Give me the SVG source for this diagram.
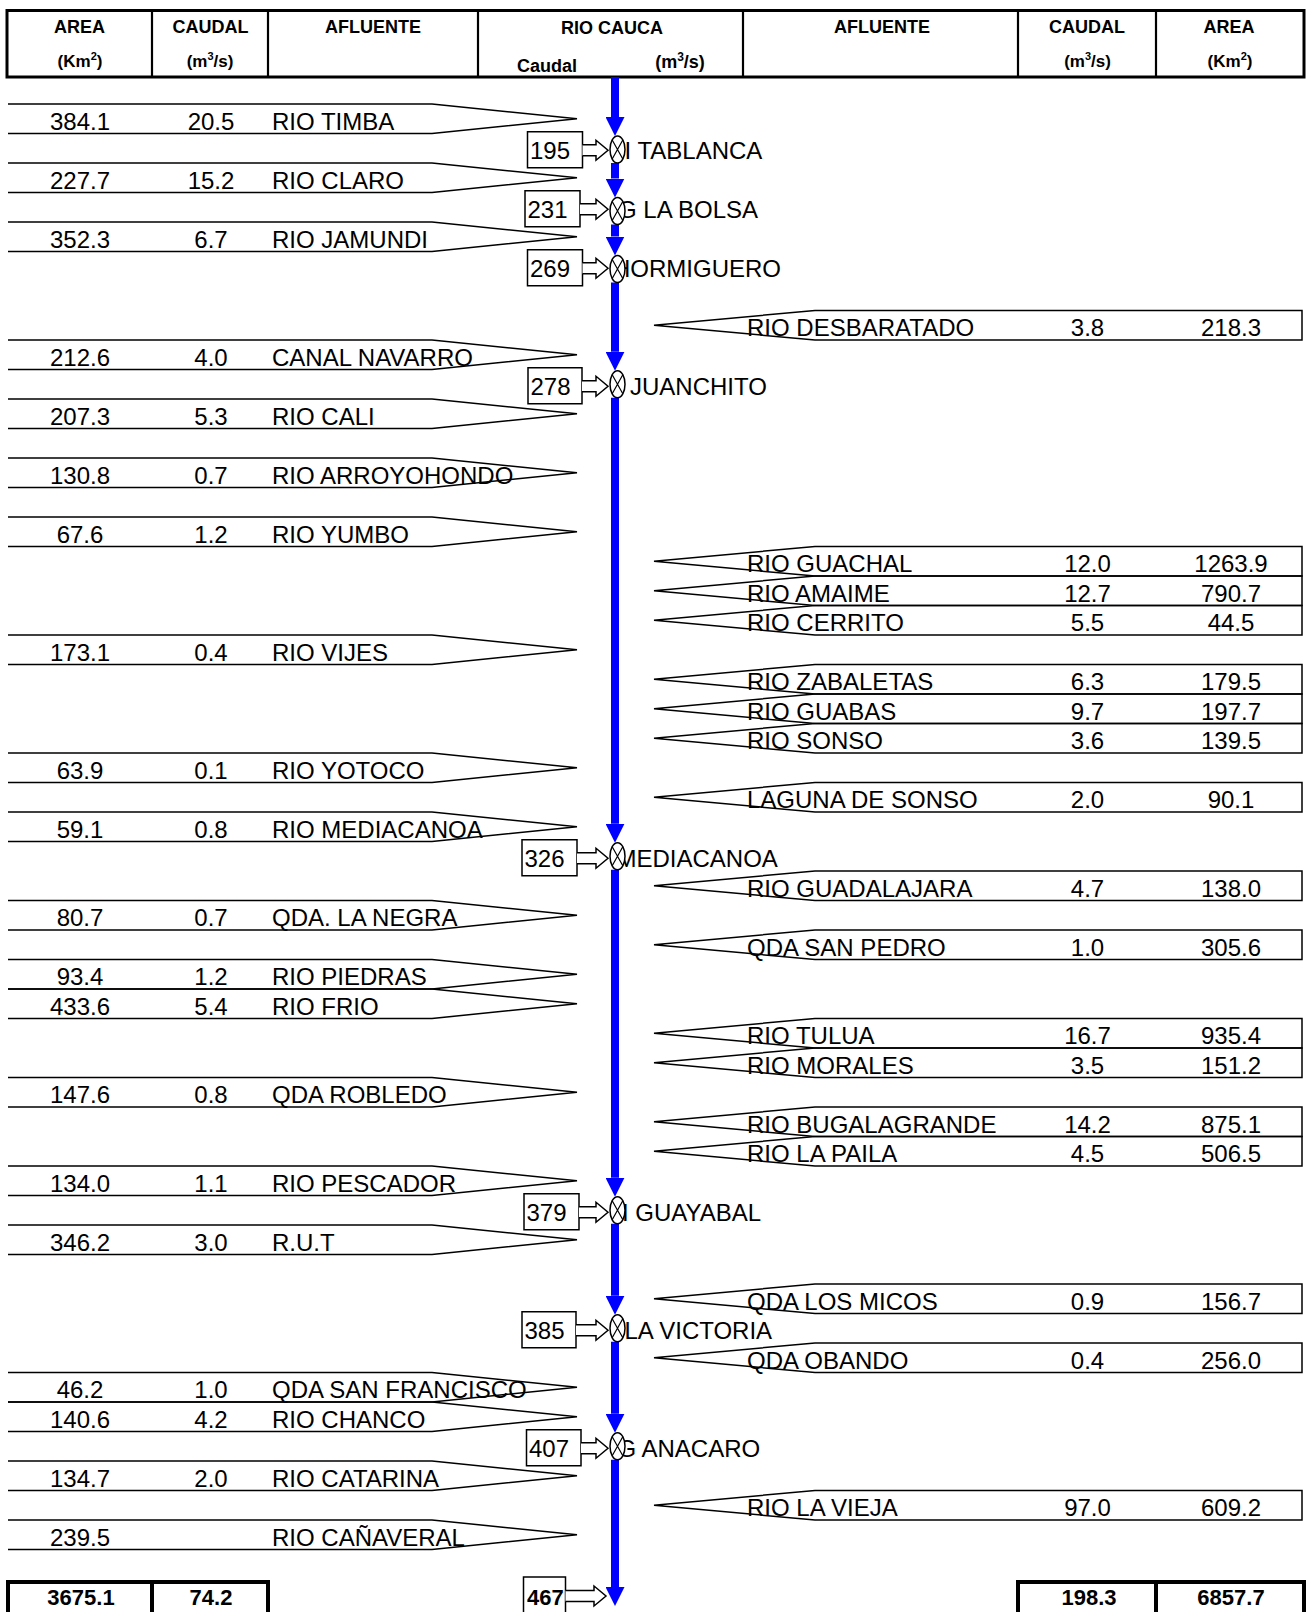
<svg xmlns="http://www.w3.org/2000/svg" xmlns:xlink="http://www.w3.org/1999/xlink" width="1306" height="1612" viewBox="0 0 1306 1612">
<style>
text{font-family:"Liberation Sans",Arial,sans-serif;fill:#000}
.t{font-size:24px}
.c{text-anchor:middle}
.h{font-size:18px;font-weight:bold}
.h2{font-size:17px;font-weight:bold}
.b{font-size:22px;font-weight:bold}
.sh{fill:none;stroke:#000;stroke-width:1.5}
.box{fill:#fff;stroke:#000;stroke-width:1.5}
.warr{fill:#fff;stroke:#000;stroke-width:1.5}
.river{stroke:#0000FF;stroke-width:8;marker-end:url(#ah)}
.grid{fill:none;stroke:#000;stroke-width:3}
.div{stroke:#000;stroke-width:2.2}
.tot{fill:none;stroke:#000;stroke-width:4}
</style>
<defs>
<marker id="ah" markerUnits="userSpaceOnUse" markerWidth="19" markerHeight="19" refX="0" refY="9.5" orient="auto" viewBox="0 0 19 19"><path d="M0,0 L19,9.5 L0,19 Z" fill="#0000FF"/></marker>
<g id="gauge"><ellipse cx="0" cy="0" rx="7.5" ry="13.5" fill="#fff" stroke="#000" stroke-width="1.5"/><path d="M-5.3,-9.5 L5.3,9.5 M5.3,-9.5 L-5.3,9.5" stroke="#000" stroke-width="1.2"/></g>
</defs>
<rect width="1306" height="1612" fill="#fff"/>

<g id="header">
<rect class="grid" x="7" y="10.5" width="1297" height="66.5"/>
<line class="div" x1="152" y1="10.5" x2="152" y2="77"/>
<line class="div" x1="268" y1="10.5" x2="268" y2="77"/>
<line class="div" x1="478" y1="10.5" x2="478" y2="77"/>
<line class="div" x1="743" y1="10.5" x2="743" y2="77"/>
<line class="div" x1="1018" y1="10.5" x2="1018" y2="77"/>
<line class="div" x1="1156" y1="10.5" x2="1156" y2="77"/>
<text class="h c" x="79.5" y="33">AREA</text>
<text class="h2 c" x="80" y="67">(Km<tspan font-size="11" dy="-7">2</tspan><tspan dy="7">)</tspan></text>
<text class="h c" x="210.5" y="33">CAUDAL</text>
<text class="h2 c" x="210" y="67">(m<tspan font-size="11" dy="-7">3</tspan><tspan dy="7">/s)</tspan></text>
<text class="h c" x="373" y="33">AFLUENTE</text>
<text class="h c" x="612" y="34">RIO CAUCA</text>
<text class="h c" x="547" y="72">Caudal</text>
<text class="h c" x="680" y="68">(m<tspan font-size="12" dy="-7">3</tspan><tspan dy="7">/s)</tspan></text>
<text class="h c" x="882" y="33">AFLUENTE</text>
<text class="h c" x="1087" y="33">CAUDAL</text>
<text class="h2 c" x="1087.5" y="67">(m<tspan font-size="11" dy="-7">3</tspan><tspan dy="7">/s)</tspan></text>
<text class="h c" x="1229" y="33">AREA</text>
<text class="h2 c" x="1230" y="67">(Km<tspan font-size="11" dy="-7">2</tspan><tspan dy="7">)</tspan></text>
</g>

<g id="connectors">
<line class="river" x1="615" y1="77" x2="615" y2="117"/>
<line class="river" x1="615" y1="163" x2="615" y2="178.5"/>
<line class="river" x1="615" y1="224.5" x2="615" y2="236.5"/>
<line class="river" x1="615" y1="282.5" x2="615" y2="351.75"/>
<line class="river" x1="615" y1="397.75" x2="615" y2="823.75"/>
<line class="river" x1="615" y1="869.75" x2="615" y2="1177.75"/>
<line class="river" x1="615" y1="1223.75" x2="615" y2="1295.75"/>
<line class="river" x1="615" y1="1341.75" x2="615" y2="1413.75"/>
<line class="river" x1="615" y1="1459.75" x2="615" y2="1587"/>
</g>

<g id="left-tributaries">
<g id="l-timba"><path class="sh" d="M8,104 H432 L577,118.75 L432,133.5 H8"/><text class="t c" x="80" y="129.5">384.1</text><text class="t c" x="211" y="129.5">20.5</text><text class="t" x="272" y="129.5">RIO TIMBA</text></g>
<g id="l-claro"><path class="sh" d="M8,163 H432 L577,177.75 L432,192.5 H8"/><text class="t c" x="80" y="188.5">227.7</text><text class="t c" x="211" y="188.5">15.2</text><text class="t" x="272" y="188.5">RIO CLARO</text></g>
<g id="l-jamundi"><path class="sh" d="M8,222 H432 L577,236.75 L432,251.5 H8"/><text class="t c" x="80" y="247.5">352.3</text><text class="t c" x="211" y="247.5">6.7</text><text class="t" x="272" y="247.5">RIO JAMUNDI</text></g>
<g id="l-navarro"><path class="sh" d="M8,340 H432 L577,354.75 L432,369.5 H8"/><text class="t c" x="80" y="365.5">212.6</text><text class="t c" x="211" y="365.5">4.0</text><text class="t" x="272" y="365.5">CANAL NAVARRO</text></g>
<g id="l-cali"><path class="sh" d="M8,399 H432 L577,413.75 L432,428.5 H8"/><text class="t c" x="80" y="424.5">207.3</text><text class="t c" x="211" y="424.5">5.3</text><text class="t" x="272" y="424.5">RIO CALI</text></g>
<g id="l-arroyohondo"><path class="sh" d="M8,458 H432 L577,472.75 L432,487.5 H8"/><text class="t c" x="80" y="483.5">130.8</text><text class="t c" x="211" y="483.5">0.7</text><text class="t" x="272" y="483.5">RIO ARROYOHONDO</text></g>
<g id="l-yumbo"><path class="sh" d="M8,517 H432 L577,531.75 L432,546.5 H8"/><text class="t c" x="80" y="542.5">67.6</text><text class="t c" x="211" y="542.5">1.2</text><text class="t" x="272" y="542.5">RIO YUMBO</text></g>
<g id="l-vijes"><path class="sh" d="M8,635 H432 L577,649.75 L432,664.5 H8"/><text class="t c" x="80" y="660.5">173.1</text><text class="t c" x="211" y="660.5">0.4</text><text class="t" x="272" y="660.5">RIO VIJES</text></g>
<g id="l-yotoco"><path class="sh" d="M8,753 H432 L577,767.75 L432,782.5 H8"/><text class="t c" x="80" y="778.5">63.9</text><text class="t c" x="211" y="778.5">0.1</text><text class="t" x="272" y="778.5">RIO YOTOCO</text></g>
<g id="l-mediacanoa"><path class="sh" d="M8,812 H432 L577,826.75 L432,841.5 H8"/><text class="t c" x="80" y="837.5">59.1</text><text class="t c" x="211" y="837.5">0.8</text><text class="t" x="272" y="837.5">RIO MEDIACANOA</text></g>
<g id="l-lanegra"><path class="sh" d="M8,900.5 H432 L577,915.25 L432,930 H8"/><text class="t c" x="80" y="926">80.7</text><text class="t c" x="211" y="926">0.7</text><text class="t" x="272" y="926">QDA. LA NEGRA</text></g>
<g id="l-piedras"><path class="sh" d="M8,959.5 H432 L577,974.25 L432,989 H8"/><text class="t c" x="80" y="985">93.4</text><text class="t c" x="211" y="985">1.2</text><text class="t" x="272" y="985">RIO PIEDRAS</text></g>
<g id="l-frio"><path class="sh" d="M8,989 H432 L577,1003.75 L432,1018.5 H8"/><text class="t c" x="80" y="1014.5">433.6</text><text class="t c" x="211" y="1014.5">5.4</text><text class="t" x="272" y="1014.5">RIO FRIO</text></g>
<g id="l-robledo"><path class="sh" d="M8,1077.5 H432 L577,1092.25 L432,1107 H8"/><text class="t c" x="80" y="1103">147.6</text><text class="t c" x="211" y="1103">0.8</text><text class="t" x="272" y="1103">QDA ROBLEDO</text></g>
<g id="l-pescador"><path class="sh" d="M8,1166 H432 L577,1180.75 L432,1195.5 H8"/><text class="t c" x="80" y="1191.5">134.0</text><text class="t c" x="211" y="1191.5">1.1</text><text class="t" x="272" y="1191.5">RIO PESCADOR</text></g>
<g id="l-rut"><path class="sh" d="M8,1225 H432 L577,1239.75 L432,1254.5 H8"/><text class="t c" x="80" y="1250.5">346.2</text><text class="t c" x="211" y="1250.5">3.0</text><text class="t" x="272" y="1250.5">R.U.T</text></g>
<g id="l-sanfrancisco"><path class="sh" d="M8,1372.5 H432 L577,1387.25 L432,1402 H8"/><text class="t c" x="80" y="1398">46.2</text><text class="t c" x="211" y="1398">1.0</text><text class="t" x="272" y="1398">QDA SAN FRANCISCO</text></g>
<g id="l-chanco"><path class="sh" d="M8,1402 H432 L577,1416.75 L432,1431.5 H8"/><text class="t c" x="80" y="1427.5">140.6</text><text class="t c" x="211" y="1427.5">4.2</text><text class="t" x="272" y="1427.5">RIO CHANCO</text></g>
<g id="l-catarina"><path class="sh" d="M8,1461 H432 L577,1475.75 L432,1490.5 H8"/><text class="t c" x="80" y="1486.5">134.7</text><text class="t c" x="211" y="1486.5">2.0</text><text class="t" x="272" y="1486.5">RIO CATARINA</text></g>
<g id="l-canaveral"><path class="sh" d="M8,1520 H432 L577,1534.75 L432,1549.5 H8"/><text class="t c" x="80" y="1545.5">239.5</text><text class="t" x="272" y="1545.5">RIO CAÑAVERAL</text></g>
</g>

<g id="right-tributaries">
<g id="r-desbaratado"><path class="sh" d="M654,325.25 L815,310.5 H1302 V340 H815 Z"/><text class="t" x="747" y="336">RIO DESBARATADO</text><text class="t c" x="1087.5" y="336">3.8</text><text class="t c" x="1231" y="336">218.3</text></g>
<g id="r-guachal"><path class="sh" d="M654,561.25 L815,546.5 H1302 V576 H815 Z"/><text class="t" x="747" y="572">RIO GUACHAL</text><text class="t c" x="1087.5" y="572">12.0</text><text class="t c" x="1231" y="572">1263.9</text></g>
<g id="r-amaime"><path class="sh" d="M654,590.75 L815,576 H1302 V605.5 H815 Z"/><text class="t" x="747" y="601.5">RIO AMAIME</text><text class="t c" x="1087.5" y="601.5">12.7</text><text class="t c" x="1231" y="601.5">790.7</text></g>
<g id="r-cerrito"><path class="sh" d="M654,620.25 L815,605.5 H1302 V635 H815 Z"/><text class="t" x="747" y="631">RIO CERRITO</text><text class="t c" x="1087.5" y="631">5.5</text><text class="t c" x="1231" y="631">44.5</text></g>
<g id="r-zabaletas"><path class="sh" d="M654,679.25 L815,664.5 H1302 V694 H815 Z"/><text class="t" x="747" y="690">RIO ZABALETAS</text><text class="t c" x="1087.5" y="690">6.3</text><text class="t c" x="1231" y="690">179.5</text></g>
<g id="r-guabas"><path class="sh" d="M654,708.75 L815,694 H1302 V723.5 H815 Z"/><text class="t" x="747" y="719.5">RIO GUABAS</text><text class="t c" x="1087.5" y="719.5">9.7</text><text class="t c" x="1231" y="719.5">197.7</text></g>
<g id="r-sonso"><path class="sh" d="M654,738.25 L815,723.5 H1302 V753 H815 Z"/><text class="t" x="747" y="749">RIO SONSO</text><text class="t c" x="1087.5" y="749">3.6</text><text class="t c" x="1231" y="749">139.5</text></g>
<g id="r-laguna"><path class="sh" d="M654,797.25 L815,782.5 H1302 V812 H815 Z"/><text class="t" x="747" y="808">LAGUNA DE SONSO</text><text class="t c" x="1087.5" y="808">2.0</text><text class="t c" x="1231" y="808">90.1</text></g>
<g id="r-guadalajara"><path class="sh" d="M654,885.75 L815,871 H1302 V900.5 H815 Z"/><text class="t" x="747" y="896.5">RIO GUADALAJARA</text><text class="t c" x="1087.5" y="896.5">4.7</text><text class="t c" x="1231" y="896.5">138.0</text></g>
<g id="r-sanpedro"><path class="sh" d="M654,944.75 L815,930 H1302 V959.5 H815 Z"/><text class="t" x="747" y="955.5">QDA SAN PEDRO</text><text class="t c" x="1087.5" y="955.5">1.0</text><text class="t c" x="1231" y="955.5">305.6</text></g>
<g id="r-tulua"><path class="sh" d="M654,1033.25 L815,1018.5 H1302 V1048 H815 Z"/><text class="t" x="747" y="1044">RIO TULUA</text><text class="t c" x="1087.5" y="1044">16.7</text><text class="t c" x="1231" y="1044">935.4</text></g>
<g id="r-morales"><path class="sh" d="M654,1062.75 L815,1048 H1302 V1077.5 H815 Z"/><text class="t" x="747" y="1073.5">RIO MORALES</text><text class="t c" x="1087.5" y="1073.5">3.5</text><text class="t c" x="1231" y="1073.5">151.2</text></g>
<g id="r-bugalagrande"><path class="sh" d="M654,1121.75 L815,1107 H1302 V1136.5 H815 Z"/><text class="t" x="747" y="1132.5">RIO BUGALAGRANDE</text><text class="t c" x="1087.5" y="1132.5">14.2</text><text class="t c" x="1231" y="1132.5">875.1</text></g>
<g id="r-lapaila"><path class="sh" d="M654,1151.25 L815,1136.5 H1302 V1166 H815 Z"/><text class="t" x="747" y="1162">RIO LA PAILA</text><text class="t c" x="1087.5" y="1162">4.5</text><text class="t c" x="1231" y="1162">506.5</text></g>
<g id="r-losmicos"><path class="sh" d="M654,1298.75 L815,1284 H1302 V1313.5 H815 Z"/><text class="t" x="747" y="1309.5">QDA LOS MICOS</text><text class="t c" x="1087.5" y="1309.5">0.9</text><text class="t c" x="1231" y="1309.5">156.7</text></g>
<g id="r-obando"><path class="sh" d="M654,1357.75 L815,1343 H1302 V1372.5 H815 Z"/><text class="t" x="747" y="1368.5">QDA OBANDO</text><text class="t c" x="1087.5" y="1368.5">0.4</text><text class="t c" x="1231" y="1368.5">256.0</text></g>
<g id="r-lavieja"><path class="sh" d="M654,1505.25 L815,1490.5 H1302 V1520 H815 Z"/><text class="t" x="747" y="1516">RIO LA VIEJA</text><text class="t c" x="1087.5" y="1516">97.0</text><text class="t c" x="1231" y="1516">609.2</text></g>
</g>

<g id="nodes">
<g id="n-tablanca"><rect class="box" x="527.5" y="131.75" width="55" height="36"/><text class="t" x="530" y="159">195</text><path class="warr" d="M582.5,144.75 H596 V140.25 L608,150.25 L596,160.25 V155.75 H582.5"/><text class="t" x="624.5" y="159">I TABLANCA</text><use xlink:href="#gauge" x="617.5" y="149.5"/></g>
<g id="n-labolsa"><rect class="box" x="525" y="190.75" width="55" height="36"/><text class="t" x="527.5" y="218">231</text><path class="warr" d="M580,203.75 H596 V199.25 L608,209.25 L596,219.25 V214.75 H580"/><text class="t" x="618" y="218">G LA BOLSA</text><use xlink:href="#gauge" x="617.5" y="211"/></g>
<g id="n-hormiguero"><rect class="box" x="527.5" y="249.75" width="55" height="36"/><text class="t" x="530" y="277">269</text><path class="warr" d="M582.5,262.75 H596 V258.25 L608,268.25 L596,278.25 V273.75 H582.5"/><text class="t" x="613" y="277">HORMIGUERO</text><use xlink:href="#gauge" x="617.5" y="269"/></g>
<g id="n-juanchito"><rect class="box" x="528" y="367.75" width="54" height="36"/><text class="t" x="530.5" y="395">278</text><path class="warr" d="M582,380.75 H596 V376.25 L608,386.25 L596,396.25 V391.75 H582"/><text class="t" x="630" y="395">JUANCHITO</text><use xlink:href="#gauge" x="617.5" y="384.25"/></g>
<g id="n-mediacanoa"><rect class="box" x="522" y="839.75" width="55" height="36"/><text class="t" x="524.5" y="867">326</text><path class="warr" d="M577,852.75 H596 V848.25 L608,858.25 L596,868.25 V863.75 H577"/><text class="t" x="616.5" y="867">MEDIACANOA</text><use xlink:href="#gauge" x="617.5" y="856.25"/></g>
<g id="n-guayabal"><rect class="box" x="524" y="1193.75" width="55" height="36"/><text class="t" x="526.5" y="1221">379</text><path class="warr" d="M579,1206.75 H596 V1202.25 L608,1212.25 L596,1222.25 V1217.75 H579"/><text class="t" x="622" y="1221">I GUAYABAL</text><use xlink:href="#gauge" x="617.5" y="1210.25"/></g>
<g id="n-lavictoria"><rect class="box" x="522" y="1311.75" width="54" height="36"/><text class="t" x="524.5" y="1339">385</text><path class="warr" d="M576,1324.75 H596 V1320.25 L608,1330.25 L596,1340.25 V1335.75 H576"/><text class="t" x="624.5" y="1339">LA VICTORIA</text><use xlink:href="#gauge" x="617.5" y="1328.25"/></g>
<g id="n-anacaro"><rect class="box" x="526.5" y="1429.75" width="54.5" height="36"/><text class="t" x="529" y="1457">407</text><path class="warr" d="M581,1442.75 H596 V1438.25 L608,1448.25 L596,1458.25 V1453.75 H581"/><text class="t" x="617.5" y="1457">G ANACARO</text><use xlink:href="#gauge" x="617.5" y="1446.25"/></g>
<g id="n-final"><rect class="box" x="523.5" y="1577" width="42" height="40"/><text class="b" x="527" y="1604.5">467</text><path class="warr" d="M565.5,1590.5 H594 V1586 L606,1596 L594,1606 V1601.5 H565.5"/></g>
</g>

<g id="totals">
<rect class="tot" x="8" y="1582" width="260" height="40"/>
<line class="tot" x1="152" y1="1582" x2="152" y2="1612"/>
<rect class="tot" x="1018" y="1582" width="286" height="40"/>
<line class="tot" x1="1156" y1="1582" x2="1156" y2="1612"/>
<text class="b c" x="81" y="1604.5">3675.1</text>
<text class="b c" x="211" y="1604.5">74.2</text>
<text class="b c" x="1089" y="1604.5">198.3</text>
<text class="b c" x="1231" y="1604.5">6857.7</text>
</g>
</svg>
